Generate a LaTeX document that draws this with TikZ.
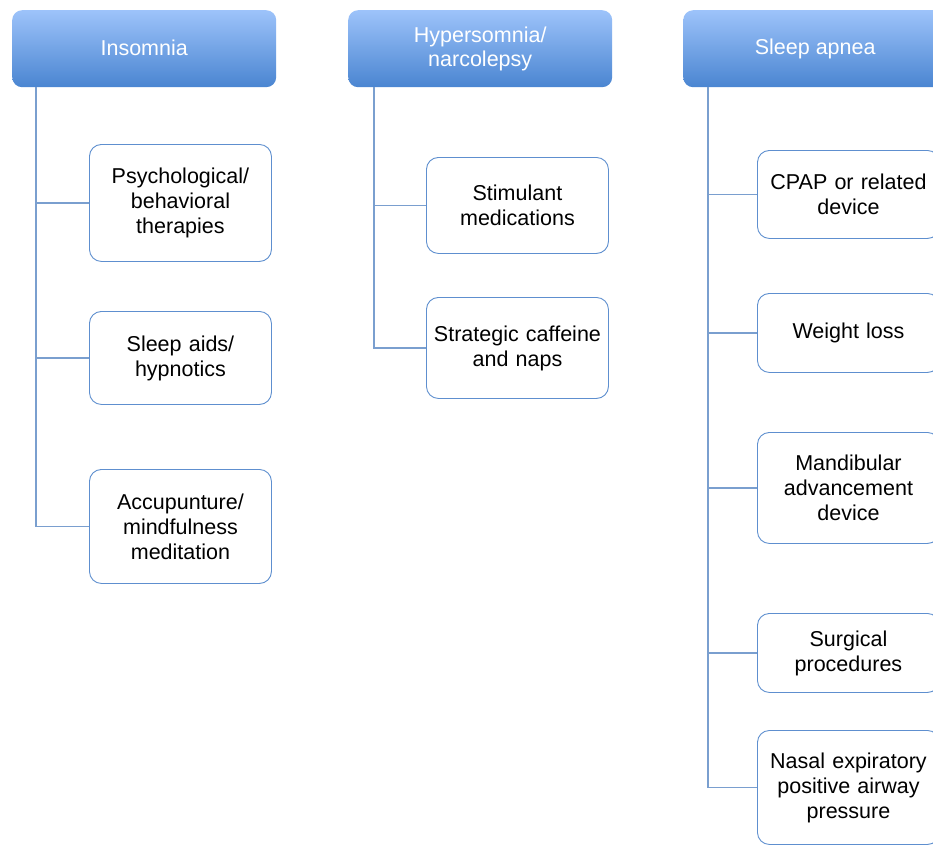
\documentclass[tikz,border=0pt]{standalone}
\usepackage{fontspec}
\setmainfont{Liberation Sans}
\definecolor{hdtop}{HTML}{9DC3FA}
\definecolor{hdbot}{HTML}{4A85D1}
\definecolor{boxline}{HTML}{5E8FCF}
\definecolor{connline}{HTML}{7A9FCF}
\begin{document}
\begin{tikzpicture}[x=1pt,y=-1pt,
  header/.style={rounded corners=10pt, top color=hdtop, bottom color=hdbot, draw=none,
    minimum width=264pt, minimum height=77pt, inner sep=0pt, text=white,
    align=center, font=\fontsize{21.5}{24.5}\selectfont, anchor=north west},
  child/.style={rounded corners=12pt, draw=boxline, line width=0.9pt, fill=white,
    minimum width=182pt, inner sep=0pt, text width=178pt, align=center,
    font=\fontsize{21.5}{25}\selectfont, anchor=north west},
  conn/.style={draw=connline, line width=1.1pt}]
\useasboundingbox (0,0) rectangle (933,844);
\clip (0,0) rectangle (933,844);
\fill[white] (0,0) rectangle (933,844);
% headers
\node[header] (h1) at (12,10) {\raisebox{1.5pt}{Insomnia}};
\node[header] (h2) at (348,10) {Hypersomnia/\\narcolepsy};
\node[header] (h3) at (683,10) {\raisebox{1.5pt}{Sleep apnea}};
% insomnia children
\node[child, minimum height=117pt] (a1) at (89,144) {Psychological/\\behavioral\\therapies};
\node[child, minimum height=93pt] (a2) at (89,311) {Sleep aids/\\hypnotics};
\node[child, minimum height=114pt] (a3) at (89,469) {Accupunture/\\mindfulness\\meditation};
% hypersomnia children
\node[child, minimum height=96pt] (b1) at (426,157) {Stimulant\\medications};
\node[child, minimum height=101pt] (b2) at (426,297) {Strategic caffeine\\and naps};
% sleep apnea children
\node[child, minimum height=88pt] (c1) at (757,150) {CPAP or related\\device};
\node[child, minimum height=79pt] (c2) at (757,293) {Weight loss};
\node[child, minimum height=111pt] (c3) at (757,432) {Mandibular\\advancement\\device};
\node[child, minimum height=79pt] (c4) at (757,613) {Surgical\\procedures};
\node[child, minimum height=114pt] (c5) at (757,730) {Nasal expiratory\\positive airway\\pressure};
% connectors
\foreach \c in {a1,a2,a3} \draw[conn] ([xshift=24pt]h1.south west) |- (\c.west);
\foreach \c in {b1,b2} \draw[conn] ([xshift=26pt]h2.south west) |- (\c.west);
\foreach \c in {c1,c2,c3,c4,c5} \draw[conn] ([xshift=25pt]h3.south west) |- (\c.west);
\end{tikzpicture}
\end{document}
